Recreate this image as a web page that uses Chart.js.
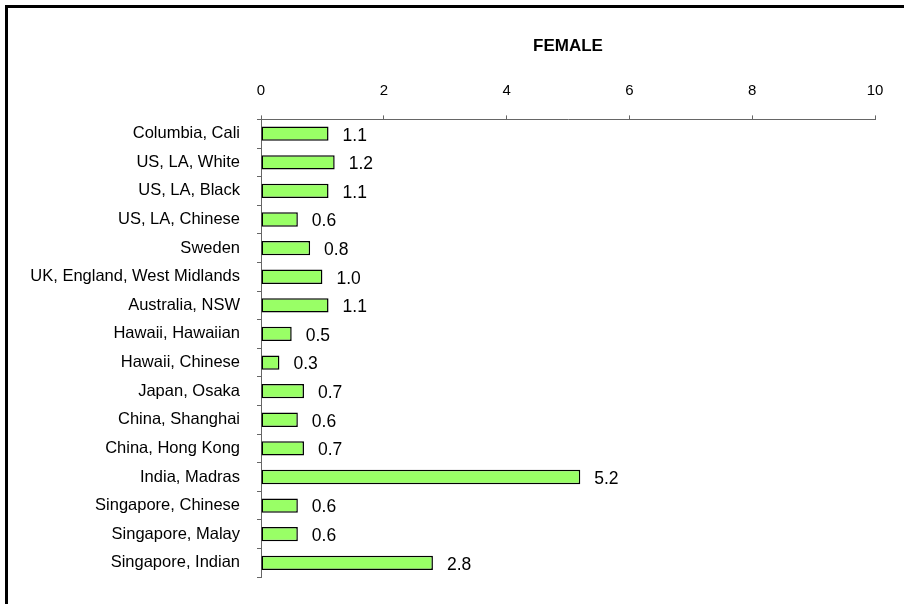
<!DOCTYPE html>
<html>
<head>
<meta charset="utf-8">
<script src="https://cdn.jsdelivr.net/npm/chart.js@4/dist/chart.umd.min.js"></script>
<style>
  html, body { margin: 0; padding: 0; background: #fff; }
  #wrap { width: 904px; height: 604px; position: relative; }
</style>
</head>
<body>
<div id="wrap"><canvas id="bar-chart" width="904" height="604"></canvas></div>
<script>
// registries, top to bottom as drawn
var regions = [
  "Columbia, Cali", "US, LA, White", "US, LA, Black", "US, LA, Chinese",
  "Sweden", "UK, England, West Midlands", "Australia, NSW", "Hawaii, Hawaiian",
  "Hawaii, Chinese", "Japan, Osaka", "China, Shanghai", "China, Hong Kong",
  "India, Madras", "Singapore, Chinese", "Singapore, Malay", "Singapore, Indian"
];
var femaleRates = [1.1, 1.2, 1.1, 0.6, 0.8, 1.0, 1.1, 0.5, 0.3, 0.7, 0.6, 0.7, 5.2, 0.6, 0.6, 2.8];
var xTicks = [0, 2, 4, 6, 8, 10];

var FONT = "Arial, 'Liberation Sans', sans-serif";

/*******************************
* Black frame round the picture (only top and left show)
*******************************/
var framePlugin = {
  id: "frame",
  beforeDraw: function(chart) {
    var ctx = chart.ctx;
    ctx.save();
    ctx.fillStyle = "#fff";
    ctx.fillRect(0, 0, chart.width, chart.height);
    ctx.strokeStyle = "#000";
    ctx.lineWidth = 3;
    ctx.beginPath();
    ctx.moveTo(6.5, chart.height + 5);
    ctx.lineTo(6.5, 6.5);
    ctx.lineTo(chart.width + 5, 6.5);
    ctx.stroke();
    ctx.restore();
  }
};

/*******************************
* Number printed right of each bar
*******************************/
var valueLabels = {
  id: "valueLabels",
  afterDatasetsDraw: function(chart) {
    var ctx = chart.ctx;
    var meta = chart.getDatasetMeta(0);
    ctx.save();
    ctx.font = "17.5px " + FONT;
    ctx.fillStyle = "#000";
    ctx.textAlign = "left";
    ctx.textBaseline = "middle";
    meta.data.forEach(function(bar, i) {
      ctx.fillText(femaleRates[i].toFixed(1), bar.x + 14, bar.y + 2);
    });
    ctx.restore();
  }
};

var chart = new Chart("bar-chart", {
  type: "bar",
  data: {
    labels: regions,
    datasets: [{
      data: femaleRates,
      backgroundColor: "#99ff66",
      borderColor: "#000",
      borderWidth: 1.5,
      borderSkipped: false,
      barPercentage: 0.5,
      categoryPercentage: 1.0
    }]
  },
  plugins: [framePlugin, valueLabels],
  options: {
    indexAxis: "y",
    responsive: false,
    animation: false,
    layout: { padding: { left: 0, right: 29, top: 0, bottom: 26 } },
    plugins: {
      legend: { display: false },
      tooltip: { enabled: false },
      title: {
        display: true,
        fullSize: false,
        text: "FEMALE",
        color: "#000",
        font: { family: FONT, size: 17, weight: "bold" },
        padding: { top: 36, bottom: 25 }
      }
    },
    scales: {
      x: {
        position: "top",
        min: 0,
        max: 10,
        afterBuildTicks: function(scale) {
          scale.ticks = xTicks.map(function(v) { return { value: v }; });
        },
        afterFit: function(scale) { scale.height = 38; },
        grid: {
          drawOnChartArea: false,
          drawTicks: true,
          tickLength: 4,
          color: "#666"
        },
        border: { display: true, color: "#666", width: 1 },
        ticks: {
          padding: 15.5,
          color: "#000",
          font: { family: FONT, size: 15 }
        }
      },
      y: {
        afterFit: function(scale) { scale.width = 261; },
        grid: {
          offset: true,
          drawOnChartArea: false,
          tickLength: 4,
          color: "#666"
        },
        border: { display: true, color: "#666", width: 1 },
        ticks: {
          padding: 17,
          autoSkip: false,
          color: "#000",
          font: { family: FONT, size: 16.5 }
        }
      }
    }
  }
});
</script>
</body>
</html>
